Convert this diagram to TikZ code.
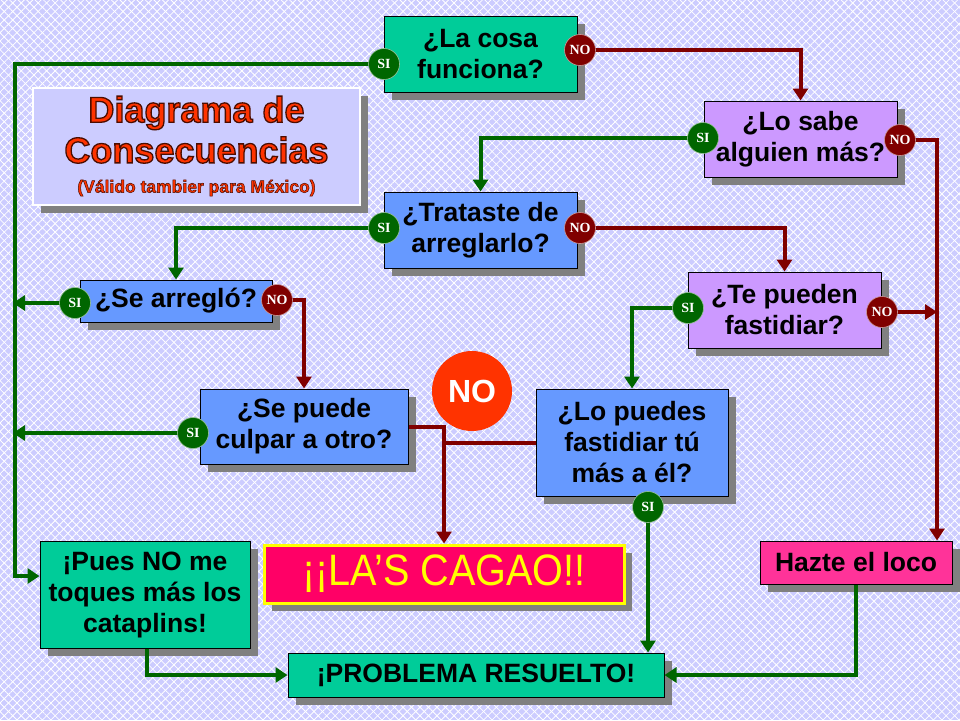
\documentclass[tikz,border=0pt]{standalone}
\usepackage{fontspec}
\setmainfont{Liberation Sans}
\newfontfamily\tnr{Liberation Serif}
\usetikzlibrary{arrows.meta,shadows,patterns.meta,calc}
\definecolor{bgc}{RGB}{204,204,255}
\definecolor{cteal}{RGB}{0,204,153}
\definecolor{cpurple}{RGB}{204,153,255}
\definecolor{cblue}{RGB}{102,153,255}
\definecolor{cpink}{RGB}{255,51,153}
\definecolor{cred}{RGB}{255,0,102}
\definecolor{cyellow}{RGB}{255,255,0}
\definecolor{shgray}{RGB}{128,128,128}
\definecolor{sigreen}{RGB}{0,102,0}
\definecolor{nored}{RGB}{128,0,0}
\definecolor{bigno}{RGB}{255,51,0}
\definecolor{titred}{RGB}{255,51,0}
% heavy title text: filled red glyphs with a thin dark rim
\newcommand\heavytx[2]{\special{pdf:code q 2 Tr #2 w 0.3 0.05 0 RG}#1\special{pdf:code Q}}
\pgfdeclarelayer{bg}\pgfdeclarelayer{fg}\pgfsetlayers{bg,main,fg}
\tikzset{
  box/.style={draw=black, line width=1pt, align=center, inner sep=0pt,
    font=\bfseries\fontsize{26.5}{31}\selectfont,
    drop shadow={shadow xshift=8pt, shadow yshift=-8pt, opacity=1, fill=shgray}},
  yesdot/.style={circle, fill=sigreen, draw=white!60!sigreen, line width=0.6pt, minimum size=31pt, inner sep=0pt,
    text=white, font=\tnr\bfseries\fontsize{14}{14}\selectfont},
  nodot/.style={yesdot, fill=nored, draw=white!60!nored},
  garr/.style={draw=sigreen, line width=4pt, -{Triangle[width=15pt,length=12pt]}},
  rarr/.style={draw=nored, line width=4pt, -{Triangle[width=15pt,length=12pt]}},
  gline/.style={draw=sigreen, line width=4pt},
  rline/.style={draw=nored, line width=4pt},
  ttl/.style={text=titred, font=\bfseries\fontsize{36}{36}\selectfont},
}
\begin{document}
\begin{tikzpicture}[x=1pt,y=-1pt]
\useasboundingbox (0,0) rectangle (960,720);
\begin{pgfonlayer}{bg}
\fill[bgc] (0,0) rectangle (960,720);
\fill[pattern={Lines[angle=45,distance=6pt,line width=0.8pt]},pattern color=white] (0,0) rectangle (960,720);
\fill[pattern={Lines[angle=-45,distance=6pt,line width=0.8pt]},pattern color=white] (0,0) rectangle (960,720);
\end{pgfonlayer}

% title
\node[draw=white, line width=1.5pt, fill=bgc, minimum width=327pt, minimum height=117pt,
  drop shadow={shadow xshift=8pt, shadow yshift=-8pt, opacity=1, fill=shgray}] (title) at (196.5,146.5) {};
\node[ttl] (t1) at (196.5,113) {\heavytx{Diagrama de}{1.3}};
\node[ttl] (t2) at (196.5,150) {\heavytx{Consecuencias}{1.3}};
\node[text=titred, font=\bfseries\fontsize{17.5}{17.5}\selectfont] (t3) at (196.5,188) {\heavytx{(Válido tambier para México)}{0.5}};

% boxes
\node[box, fill=cteal, minimum width=193pt, minimum height=76pt] (lacosa) at (480.5,54) {¿La cosa\\funciona?};
\node[box, fill=cpurple, minimum width=193pt, minimum height=76pt] (losabe) at (800.5,139) {¿Lo sabe\\alguien más?};
\node[box, fill=cblue, minimum width=193pt, minimum height=76pt] (trataste) at (480.5,230) {¿Trataste de\\arreglarlo?};
\node[box, fill=cpurple, minimum width=193pt, minimum height=76pt] (tepueden) at (784.5,310) {¿Te pueden\\fastidiar?};
\node[box, fill=cblue, minimum width=192pt, minimum height=42pt] (searreglo) at (176,301) {¿Se arregló?};
\node[box, fill=cblue, minimum width=208pt, minimum height=75pt] (sepuede) at (304,426.5) {¿Se puede\\culpar a otro?};
\node[box, fill=cblue, minimum width=192pt, minimum height=107pt] (lopuedes) at (632,442.5) {¿Lo puedes\\fastidiar tú\\más a él?};
\node[box, fill=cteal, minimum width=210pt, minimum height=107pt] (pues) at (145,594.5) {¡Pues NO me\\toques más los\\cataplins!};
\node[box, fill=cred, draw=cyellow, line width=3pt, minimum width=360pt, minimum height=58pt,
  text=cyellow, font=\fontsize{44}{44}\selectfont] (lascagao) at (444,574) {\scalebox{0.9}[1]{¡¡LA’S CAGAO!!}};
\node[box, fill=cpink, minimum width=192pt, minimum height=43pt] (hazte) at (856,562.5) {Hazte el loco};
\node[box, fill=cteal, minimum width=376pt, minimum height=44pt] (problema) at (476,675) {¡PROBLEMA RESUELTO!};

\node[circle, fill=bigno, minimum size=80pt, inner sep=0pt, text=white, font=\bfseries\fontsize{32}{32}\selectfont] (bigno) at (472,391) {NO};

% decision dots
\begin{pgfonlayer}{fg}
\node[yesdot] (siA) at (384,64) {SI};
\node[nodot] (noA) at (580,50) {NO};
\node[yesdot] (siB) at (703,138) {SI};
\node[nodot] (noB) at (900,140) {NO};
\node[yesdot] (siC) at (384,228) {SI};
\node[nodot] (noC) at (580,228) {NO};
\node[yesdot] (siD) at (688,308) {SI};
\node[nodot] (noD) at (882,312) {NO};
\node[yesdot] (siE) at (75,303) {SI};
\node[nodot] (noE) at (277,300) {NO};
\node[yesdot] (siF) at (193,433) {SI};
\node[yesdot] (siG) at (648,507) {SI};
\end{pgfonlayer}

\coordinate (lft) at (15,0);
\coordinate (rgt) at (937,0);
\coordinate (puesin) at ([yshift=18.5pt]pues.west);

% connectors
\draw[garr] (siA.center) -- (lft |- siA.center) -- (lft |- puesin) -- (puesin);
\draw[rarr] (noA.center) -| (losabe.north);
\draw[garr] (siB.center) -| (trataste.north);
\draw[rarr] (noB.center) -| (rgt |- hazte.north);
\draw[garr] (siC.center) -| (searreglo.north);
\draw[rarr] (noC.center) -| (tepueden.north);
\draw[rarr] (noD.center) -- (rgt |- noD.center);
\draw[garr] (siD.center) -| (lopuedes.north);
\draw[garr] (siE.center) -- ([xshift=-2pt]lft |- siE.center);
\draw[rarr] (noE.center) -| (sepuede.north);
\draw[garr] (siF.center) -- ([xshift=-2pt]lft |- siF.center);
\draw[rarr] (sepuede.east) -| (lascagao.north);
\draw[rline] (lopuedes.west) -- (lascagao.north |- lopuedes.west);
\draw[garr] (siG.center) -- (siG.center |- problema.north);
\draw[garr] ([xshift=2pt]pues.south) |- (problema.west);
\draw[garr] (hazte.south) |- (problema.east);
\end{tikzpicture}
\end{document}
